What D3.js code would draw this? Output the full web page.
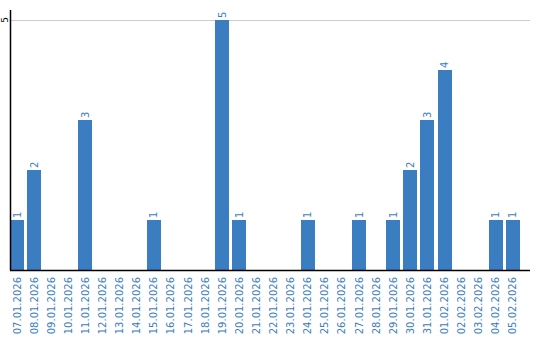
<!DOCTYPE html>
<html><head><meta charset="utf-8">
<script src="https://cdn.jsdelivr.net/npm/d3@7"></script>
<style>body{margin:0;background:#fff}svg{display:block}</style>
</head><body><svg id="c" width="540" height="340"></svg>
<script>
const categories = ["07.01.2026","08.01.2026","09.01.2026","10.01.2026","11.01.2026","12.01.2026","13.01.2026","14.01.2026","15.01.2026","16.01.2026","17.01.2026","18.01.2026","19.01.2026","20.01.2026","21.01.2026","22.01.2026","23.01.2026","24.01.2026","25.01.2026","26.01.2026","27.01.2026","28.01.2026","29.01.2026","30.01.2026","31.01.2026","01.02.2026","02.02.2026","03.02.2026","04.02.2026","05.02.2026"];
const values = [1,2,0,0,3,0,0,0,1,0,0,0,5,1,0,0,0,1,0,0,1,0,1,2,3,4,0,0,1,1];
const yTicks = [5];

const svg = d3.select("#c");
const font = "DejaVu Sans, sans-serif";
const blue = "#3b7dc1";
const x = d3.scaleBand().domain(categories).range([10, 520]).paddingInner(0.18).paddingOuter(0);
const y = d3.scaleLinear().domain([0, 5]).range([270, 20]);

// grid
svg.append("g").selectAll("line").data(yTicks).join("line")
  .attr("x1", 10).attr("x2", 530).attr("y1", d => y(d)).attr("y2", d => y(d))
  .attr("stroke", "#cccccc").attr("stroke-width", 1).attr("shape-rendering","crispEdges");

// bars
svg.append("g").selectAll("rect").data(categories.map((c,i)=>({c,v:values[i]})).filter(d=>d.v>0)).join("rect")
  .attr("x", d => x(d.c)).attr("width", x.bandwidth())
  .attr("y", d => y(d.v)).attr("height", d => y(0) - y(d.v))
  .attr("fill", blue).attr("shape-rendering","crispEdges");

// value labels
svg.append("g").selectAll("text").data(categories.map((c,i)=>({c,v:values[i]})).filter(d=>d.v>0)).join("text")
  .attr("transform", d => `translate(${x(d.c)+x.bandwidth()/2+3.5},${y(d.v)-2}) rotate(-90)`)
  .attr("text-anchor", "start").attr("font-family", font).attr("font-size", 10)
  .attr("fill", blue).text(d => d.v);

// y axis
svg.append("line").attr("x1",10.5).attr("x2",10.5).attr("y1",10).attr("y2",270)
  .attr("stroke","#000").attr("stroke-width",1.5);
svg.append("g").selectAll("text").data(yTicks).join("text")
  .attr("transform", d => `translate(7.5,${y(d)}) rotate(-90)`)
  .attr("text-anchor","middle").attr("font-family",font).attr("font-size",9)
  .attr("fill","#000").text(d=>d);

// x axis
svg.append("line").attr("x1",10).attr("x2",530).attr("y1",270.5).attr("y2",270.5)
  .attr("stroke","#000").attr("stroke-width",1.5);
svg.append("g").selectAll("text").data(categories).join("text")
  .attr("transform", d => `translate(${x(d)+x.bandwidth()/2+3.5},277) rotate(-90)`)
  .attr("text-anchor","end").attr("font-family",font).attr("font-size",10)
  .attr("fill", blue).text(d=>d);
</script></body></html>
